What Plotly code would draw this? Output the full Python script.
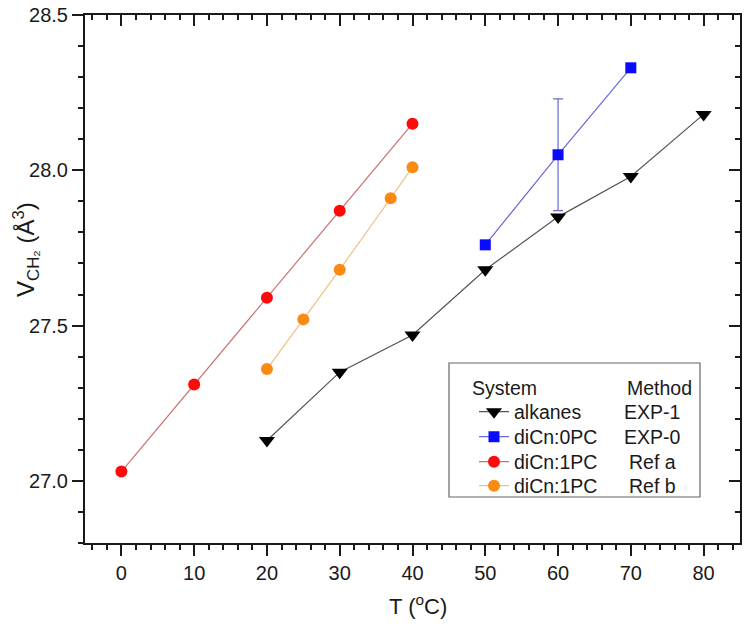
import plotly.graph_objects as go

# ---------------- data ----------------
alk_T = [20, 30, 40, 50, 60, 70, 80]
alk_V = [27.13, 27.35, 27.47, 27.68, 27.85, 27.98, 28.18]

pc0_T = [50, 60, 70]
pc0_V = [27.76, 28.05, 28.33]
pc0_err = [0, 0.18, 0]

refa_T = [0, 10, 20, 30, 40]
refa_V = [27.03, 27.31, 27.59, 27.87, 28.15]

refb_T = [20, 25, 30, 37, 40]
refb_V = [27.36, 27.52, 27.68, 27.91, 28.01]

systems = ["alkanes", "diCn:0PC", "diCn:1PC", "diCn:1PC"]
methods = ["EXP-1", "EXP-0", "Ref a", "Ref b"]

x_ticks = [0, 10, 20, 30, 40, 50, 60, 70, 80]
y_ticks = [27.0, 27.5, 28.0, 28.5]
y_ticktext = ["27.0", "27.5", "28.0", "28.5"]

FONT = "Arial, Liberation Sans, sans-serif"
TXT = "#1a1a1a"
LFS = 19.5  # legend font size

# plot-area geometry (pixels) used to place the legend / titles in paper coords
L, R, T, B = 85, 740, 15, 543
W, H = R - L, B - T


def px(xp):
    return (xp - L) / W


def py(yp):
    return (B - yp) / H


fig = go.Figure()

# blue first so the triangle covers the lower error cap
fig.add_trace(go.Scatter(
    x=pc0_T, y=pc0_V, name=systems[1], mode="lines+markers",
    line=dict(color="#6a6ad4", width=1.2),
    marker=dict(symbol="square", size=11, color="#0a0aff"),
    error_y=dict(type="data", array=pc0_err, visible=True, color="#6a6ad4",
                 thickness=1.2, width=5),
    legend="legend2"))
fig.add_trace(go.Scatter(
    x=alk_T, y=alk_V, name=systems[0], mode="lines+markers",
    line=dict(color="#555555", width=1.2),
    marker=dict(symbol="triangle-down", size=14, color="#000000"),
    legend="legend"))
fig.add_trace(go.Scatter(
    x=refa_T, y=refa_V, name=systems[2], mode="lines+markers",
    line=dict(color="#cc7070", width=1.2),
    marker=dict(symbol="circle", size=12, color="#ff0a0a"),
    legend="legend3"))
fig.add_trace(go.Scatter(
    x=refb_T, y=refb_V, name=systems[3], mode="lines+markers",
    line=dict(color="#f0c080", width=1.2),
    marker=dict(symbol="circle", size=12, color="#fb8a14"),
    legend="legend4"))

# dummy to activate mirror axes
fig.add_trace(go.Scatter(x=[None], y=[None], xaxis="x2", yaxis="y2",
                         showlegend=False, hoverinfo="skip"))

axis_common = dict(showgrid=False, zeroline=False, showline=True,
                   linecolor="#1a1a1a", linewidth=2, automargin=False,
                   tickcolor="#1a1a1a", tickwidth=1.5, ticklen=11)
tickfont = dict(family=FONT, size=20, color=TXT)

row_px = [412, 437, 462, 486]
legend_x_px = 474


def leg(yp):
    return dict(x=px(legend_x_px), y=py(yp), xanchor="left", yanchor="middle",
                bgcolor="rgba(0,0,0,0)", borderwidth=0, itemwidth=30,
                font=dict(family=FONT, size=LFS, color=TXT))


fig.update_layout(
    width=750, height=634,
    margin=dict(l=L, r=750 - R, t=T, b=634 - B),
    paper_bgcolor="white", plot_bgcolor="white",
    font=dict(family=FONT, color=TXT),
    showlegend=True,
    xaxis=dict(range=[-5, 85], tickvals=x_ticks, ticks="outside", tickfont=tickfont,
               minor=dict(dtick=2, tick0=0, ticklen=5, ticks="outside",
                          tickcolor="#1a1a1a", tickwidth=1.5),
               **axis_common),
    yaxis=dict(range=[26.8, 28.5], tickvals=y_ticks, ticktext=y_ticktext,
               ticks="outside", tickfont=tickfont,
               minor=dict(dtick=0.1, tick0=26.8, ticklen=5, ticks="outside",
                          tickcolor="#1a1a1a", tickwidth=1.5),
               **axis_common),
    xaxis2=dict(range=[-5, 85], overlaying="x", side="top", anchor="y",
                tickvals=x_ticks, ticks="inside", showticklabels=False,
                minor=dict(dtick=2, tick0=0, ticklen=5, ticks="inside",
                           tickcolor="#1a1a1a", tickwidth=1.5),
                **axis_common),
    yaxis2=dict(range=[26.8, 28.5], overlaying="y", side="right", anchor="x",
                tickvals=y_ticks, ticks="inside", showticklabels=False,
                minor=dict(dtick=0.1, tick0=26.8, ticklen=5, ticks="inside",
                           tickcolor="#1a1a1a", tickwidth=1.5),
                **axis_common),
    legend=leg(row_px[0]),
    legend2=leg(row_px[1]),
    legend3=leg(row_px[2]),
    legend4=leg(row_px[3]),
)

# axis titles
fig.add_annotation(text="T (<sup>o</sup>C)", xref="paper", yref="paper",
                   x=px(418), y=py(605), showarrow=False,
                   xanchor="center", yanchor="middle",
                   font=dict(family=FONT, size=22, color=TXT))
fig.add_annotation(text="V<sub>CH₂</sub> (Å<sup>3</sup>)", xref="paper", yref="paper",
                   x=px(26), y=py(250), showarrow=False, textangle=-90,
                   xanchor="center", yanchor="middle",
                   font=dict(family=FONT, size=24, color=TXT))

# legend frame, header and method column
fig.add_shape(type="rect", xref="paper", yref="paper",
              x0=px(449), x1=px(700), y0=py(497), y1=py(363),
              line=dict(color="#666666", width=1.2), fillcolor="white", layer="below")
fig.add_annotation(text="System", xref="paper", yref="paper", x=px(470),
                   y=py(388), showarrow=False, xanchor="left", yanchor="middle",
                   font=dict(family=FONT, size=LFS, color=TXT))
fig.add_annotation(text="Method", xref="paper", yref="paper", x=px(659),
                   y=py(388), showarrow=False, xanchor="center", yanchor="middle",
                   font=dict(family=FONT, size=LFS, color=TXT))
for m, yp in zip(methods, row_px):
    fig.add_annotation(text=m, xref="paper", yref="paper", x=px(652),
                       y=py(yp), showarrow=False, xanchor="center",
                       yanchor="middle", font=dict(family=FONT, size=LFS, color=TXT))

fig.write_html("out.html", config={"displayModeBar": False},
               post_script="document.body.style.margin='0';document.body.style.padding='0';")
